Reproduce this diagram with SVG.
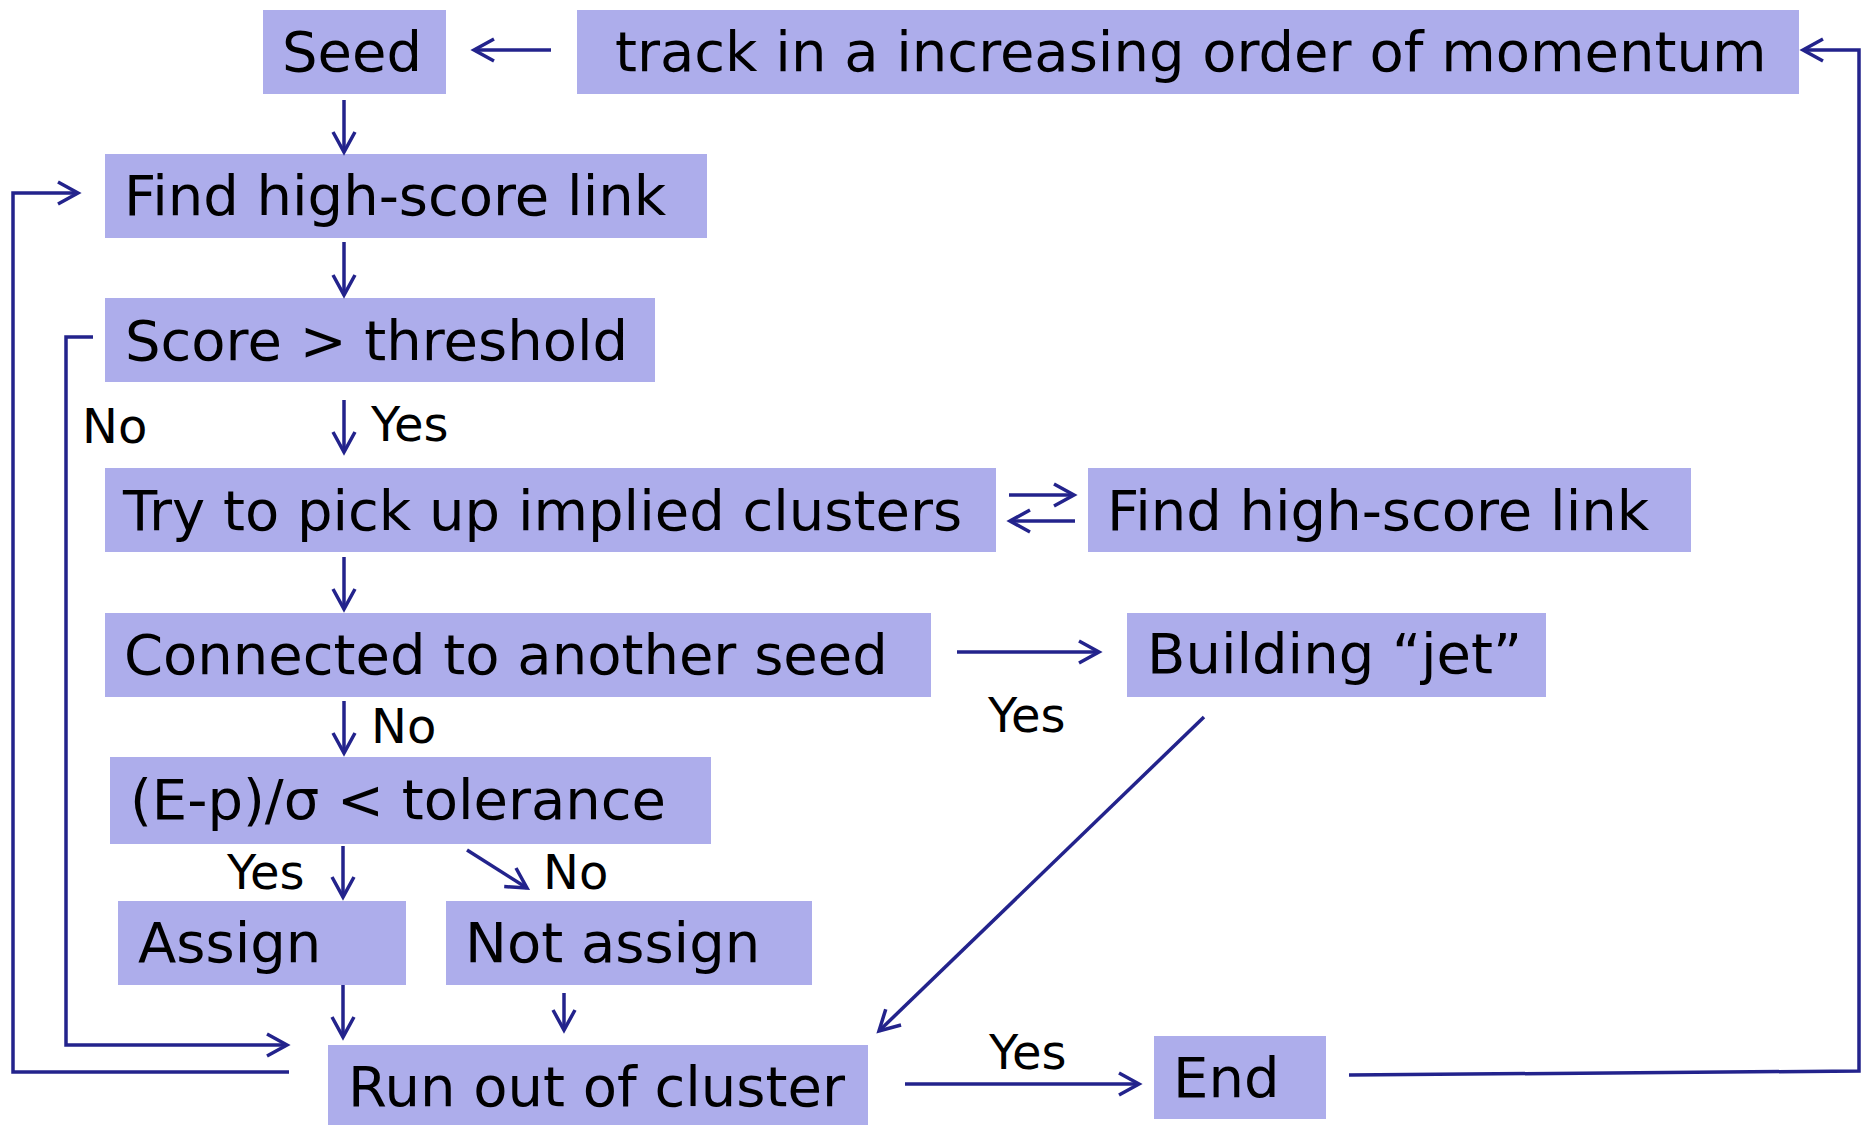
<svg xmlns="http://www.w3.org/2000/svg" width="1863" height="1125" viewBox="0 0 1863 1125">
<style>
.box{fill:#ADADEB}
.t{font-family:"DejaVu Sans",Verdana,sans-serif;font-size:56px;fill:#000}
.l{font-family:"DejaVu Sans",Verdana,sans-serif;font-size:48px;fill:#000}
.c{fill:none;stroke:#23238C;stroke-width:3.5}
.a{marker-end:url(#ah)}
</style>
<defs>
<marker id="ah" markerUnits="userSpaceOnUse" markerWidth="30" markerHeight="30" viewBox="-25 -15 30 30" refX="0" refY="0" orient="auto">
<path d="M-20,-11 L0,0 L-20,11" fill="none" stroke="#23238C" stroke-width="3.5"/>
</marker>
</defs>
<rect width="1863" height="1125" fill="#fff"/>
<g id="seed"><rect class="box" x="263" y="10" width="183" height="84"/><text class="t" x="282" y="71">Seed</text></g>
<g id="track"><rect class="box" x="577" y="10" width="1222" height="84"/><text class="t" x="615" y="71">track in a increasing order of momentum</text></g>
<g id="find1"><rect class="box" x="105" y="154" width="602" height="84"/><text class="t" x="124" y="215">Find high-score link</text></g>
<g id="score"><rect class="box" x="105" y="298" width="550" height="84"/><text class="t" x="125" y="360">Score &gt; threshold</text></g>
<g id="try"><rect class="box" x="105" y="468" width="891" height="84"/><text class="t" x="123" y="530">Try to pick up implied clusters</text></g>
<g id="find2"><rect class="box" x="1088" y="468" width="603" height="84"/><text class="t" x="1107" y="530">Find high-score link</text></g>
<g id="connected"><rect class="box" x="105" y="613" width="826" height="84"/><text class="t" x="124" y="674">Connected to another seed</text></g>
<g id="building"><rect class="box" x="1127" y="613" width="419" height="84"/><text class="t" x="1147" y="673">Building “jet”</text></g>
<g id="ep"><rect class="box" x="110" y="757" width="601" height="87"/><text class="t" x="130" y="819">(E-p)/σ &lt; tolerance</text></g>
<g id="assign"><rect class="box" x="118" y="901" width="288" height="84"/><text class="t" x="138" y="962">Assign</text></g>
<g id="notassign"><rect class="box" x="446" y="901" width="366" height="84"/><text class="t" x="465" y="962">Not assign</text></g>
<g id="runout"><rect class="box" x="328" y="1045" width="540" height="80"/><text class="t" x="348" y="1106">Run out of cluster</text></g>
<g id="end"><rect class="box" x="1154" y="1036" width="172" height="83"/><text class="t" x="1173" y="1097">End</text></g>
<g id="connectors">
<path class="c a" d="M551,50 H474" stroke-width="4"/>
<path class="c a" d="M344,100 V152"/>
<path class="c a" d="M344,242 V295"/>
<path class="c a" d="M344,400 V452"/>
<path class="c a" d="M344,557 V609"/>
<path class="c a" d="M344,701 V753"/>
<path class="c a" d="M343,846 V897"/>
<path class="c a" d="M467,850 L527,888"/>
<path class="c a" d="M343,985 V1037"/>
<path class="c a" d="M564,993 V1030"/>
<path class="c a" d="M93,337 H66 V1045 H287"/>
<path class="c a" d="M289,1072 H13 V193 H78"/>
<path class="c a" d="M1009,495 H1074"/>
<path class="c a" d="M1075,521 H1010"/>
<path class="c a" d="M957,652 H1099" stroke-width="4"/>
<path class="c a" d="M1204,717 L879,1031"/>
<path class="c a" d="M905,1084 H1139" stroke-width="4"/>
<path class="c a" d="M1349,1075 L1859,1071 V50 L1803,50" stroke-width="4"/>
</g>
<g id="labels">
<text class="l" x="82" y="443">No</text>
<text class="l" x="371" y="441">Yes</text>
<text class="l" x="371" y="743">No</text>
<text class="l" x="988" y="732">Yes</text>
<text class="l" x="227" y="889">Yes</text>
<text class="l" x="543" y="889">No</text>
<text class="l" x="989" y="1069">Yes</text>
</g>
</svg>
